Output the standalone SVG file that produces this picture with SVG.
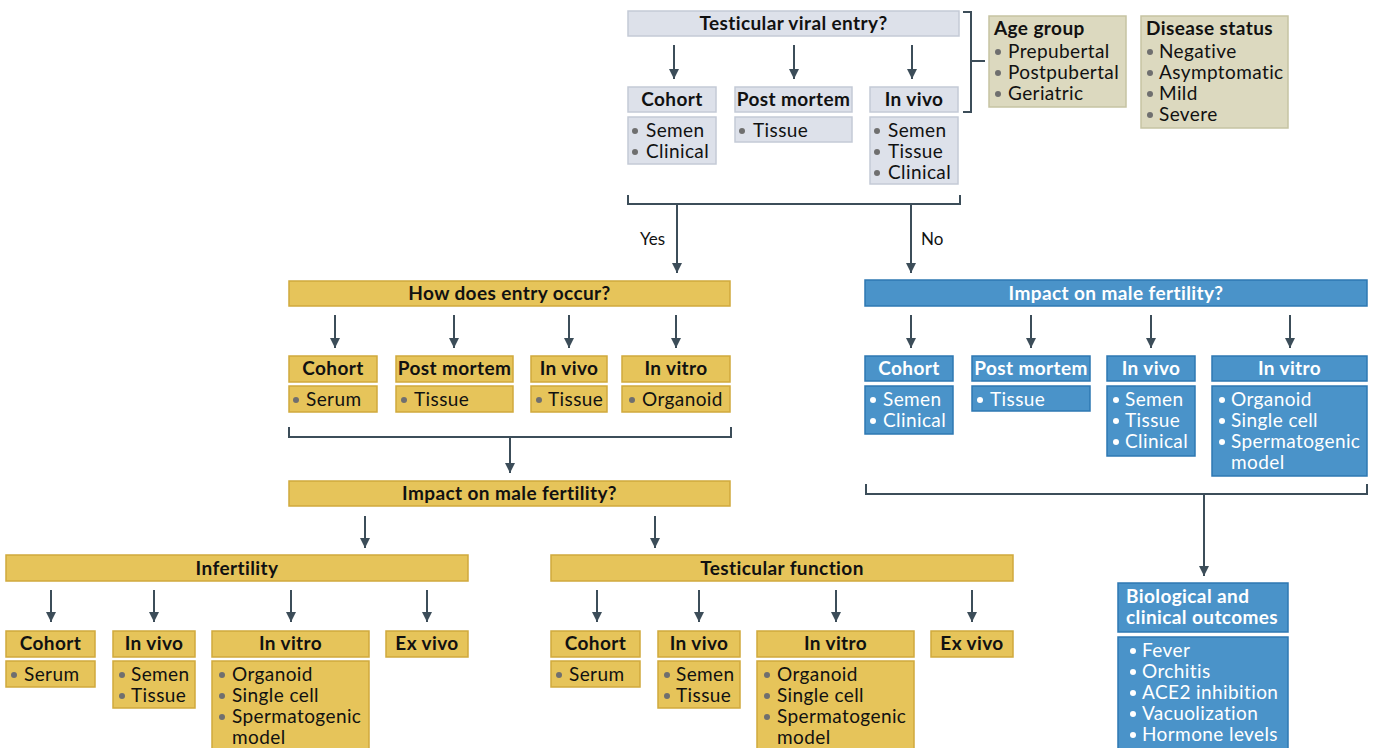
<svg xmlns="http://www.w3.org/2000/svg" width="1381" height="748" viewBox="0 0 1381 748">
<defs>
<marker id="ah" viewBox="0 0 10 10" refX="10" refY="5" markerWidth="10" markerHeight="10" markerUnits="userSpaceOnUse" orient="auto">
<path d="M0,0 L10,5 L0,10 Z" fill="#3c4d59"/>
</marker>
<style>
text{font-family:Lato,"Open Sans","Liberation Sans",sans-serif;font-size:19px;letter-spacing:0.4px}
.g{fill:#dde1ea;stroke:#c4cad6;stroke-width:1.5}
.b{fill:#dcd9bf;stroke:#c6c3a3;stroke-width:1.5}
.y{fill:#e6c45a;stroke:#d0a93c;stroke-width:1.5}
.u{fill:#4a93c9;stroke:#2e78b2;stroke-width:1.5}
.h{font-weight:bold;text-anchor:middle;fill:#111}
.hw{font-weight:bold;text-anchor:middle;fill:#fff}
.t{fill:#111}
.tw{fill:#fff}
.d{fill:#6f6f6f}
.dw{fill:#fff}
.c{stroke:#3c4d59;stroke-width:2;fill:none}
.a{stroke:#3c4d59;stroke-width:2;fill:none;marker-end:url(#ah)}
.lbl{font-size:17px;letter-spacing:0;fill:#111}
</style>
</defs>

<g id="connectors">
<line class="a" x1="674" y1="45" x2="674" y2="79"/>
<line class="a" x1="794" y1="45" x2="794" y2="79"/>
<line class="a" x1="912" y1="45" x2="912" y2="79"/>
<path class="c" d="M963,12 H971 V112 H963 M971,61 H985"/>
<path class="c" d="M628,195 V204 H960 V195"/>
<line class="a" x1="677" y1="204" x2="677" y2="273"/>
<line class="a" x1="911" y1="204" x2="911" y2="273"/>
<line class="a" x1="335" y1="315" x2="335" y2="348"/>
<line class="a" x1="454" y1="315" x2="454" y2="348"/>
<line class="a" x1="569" y1="315" x2="569" y2="348"/>
<line class="a" x1="676" y1="315" x2="676" y2="348"/>
<path class="c" d="M289,427 V437 H731 V427"/>
<line class="a" x1="510" y1="437" x2="510" y2="473"/>
<line class="a" x1="365" y1="516" x2="365" y2="548"/>
<line class="a" x1="655" y1="516" x2="655" y2="548"/>
<line class="a" x1="51" y1="590" x2="51" y2="622"/>
<line class="a" x1="154" y1="590" x2="154" y2="622"/>
<line class="a" x1="291" y1="590" x2="291" y2="622"/>
<line class="a" x1="427" y1="590" x2="427" y2="622"/>
<line class="a" x1="597" y1="590" x2="597" y2="622"/>
<line class="a" x1="699" y1="590" x2="699" y2="622"/>
<line class="a" x1="836" y1="590" x2="836" y2="622"/>
<line class="a" x1="972" y1="590" x2="972" y2="622"/>
<line class="a" x1="911" y1="315" x2="911" y2="348"/>
<line class="a" x1="1031" y1="315" x2="1031" y2="348"/>
<line class="a" x1="1151" y1="315" x2="1151" y2="348"/>
<line class="a" x1="1290" y1="315" x2="1290" y2="348"/>
<path class="c" d="M866,484 V494 H1367 V484"/>
<line class="a" x1="1204" y1="494" x2="1204" y2="576"/>
<text class="lbl" x="640" y="245">Yes</text>
<text class="lbl" x="921" y="245">No</text>
</g>

<g id="n-entry">
<rect class="g" x="628" y="11" width="331" height="25"/>
<text class="h" x="793.5" y="30">Testicular viral entry?</text>
</g>
<g id="n-top-cohort">
<rect class="g" x="628" y="87" width="88" height="25"/>
<text class="h" x="672" y="106">Cohort</text>
<rect class="g" x="628" y="117" width="88" height="47"/>
<circle class="d" cx="635" cy="131" r="3"/><text class="t" x="646" y="137">Semen</text>
<circle class="d" cx="635" cy="152" r="3"/><text class="t" x="646" y="158">Clinical</text>
</g>
<g id="n-top-postmortem">
<rect class="g" x="735" y="87" width="117" height="25"/>
<text class="h" x="793.5" y="106">Post mortem</text>
<rect class="g" x="735" y="117" width="117" height="25"/>
<circle class="d" cx="742" cy="131" r="3"/><text class="t" x="753" y="137">Tissue</text>
</g>
<g id="n-top-invivo">
<rect class="g" x="870" y="87" width="88" height="25"/>
<text class="h" x="914" y="106">In vivo</text>
<rect class="g" x="870" y="117" width="88" height="67"/>
<circle class="d" cx="877" cy="131" r="3"/><text class="t" x="888" y="137">Semen</text>
<circle class="d" cx="877" cy="152" r="3"/><text class="t" x="888" y="158">Tissue</text>
<circle class="d" cx="877" cy="173" r="3"/><text class="t" x="888" y="179">Clinical</text>
</g>
<g id="n-age">
<rect class="b" x="989" y="16" width="137" height="91"/>
<text class="t" x="994" y="35" style="font-weight:bold">Age group</text>
<circle class="d" cx="998" cy="52" r="3"/><text class="t" x="1008" y="58">Prepubertal</text>
<circle class="d" cx="998" cy="73" r="3"/><text class="t" x="1008" y="79">Postpubertal</text>
<circle class="d" cx="998" cy="94" r="3"/><text class="t" x="1008" y="100">Geriatric</text>
</g>
<g id="n-disease">
<rect class="b" x="1141" y="16" width="147" height="112"/>
<text class="t" x="1146" y="35" style="font-weight:bold">Disease status</text>
<circle class="d" cx="1150" cy="52" r="3"/><text class="t" x="1159" y="58">Negative</text>
<circle class="d" cx="1150" cy="73" r="3"/><text class="t" x="1159" y="79">Asymptomatic</text>
<circle class="d" cx="1150" cy="94" r="3"/><text class="t" x="1159" y="100">Mild</text>
<circle class="d" cx="1150" cy="115" r="3"/><text class="t" x="1159" y="121">Severe</text>
</g>

<g id="n-how">
<rect class="y" x="289" y="281" width="441" height="25"/>
<text class="h" x="509.5" y="300">How does entry occur?</text>
</g>
<g id="n-how-cohort">
<rect class="y" x="289" y="356" width="88" height="26"/>
<text class="h" x="333" y="375">Cohort</text>
<rect class="y" x="289" y="386" width="88" height="26"/>
<circle class="d" cx="296" cy="400" r="3"/><text class="t" x="306" y="406">Serum</text>
</g>
<g id="n-how-postmortem">
<rect class="y" x="396" y="356" width="117" height="26"/>
<text class="h" x="454.5" y="375">Post mortem</text>
<rect class="y" x="396" y="386" width="117" height="26"/>
<circle class="d" cx="404" cy="400" r="3"/><text class="t" x="414" y="406">Tissue</text>
</g>
<g id="n-how-invivo">
<rect class="y" x="531" y="356" width="76" height="26"/>
<text class="h" x="569" y="375">In vivo</text>
<rect class="y" x="531" y="386" width="76" height="26"/>
<circle class="d" cx="539" cy="400" r="3"/><text class="t" x="548" y="406">Tissue</text>
</g>
<g id="n-how-invitro">
<rect class="y" x="622" y="356" width="108" height="26"/>
<text class="h" x="676" y="375">In vitro</text>
<rect class="y" x="622" y="386" width="108" height="26"/>
<circle class="d" cx="632" cy="400" r="3"/><text class="t" x="642" y="406">Organoid</text>
</g>
<g id="n-impact-y">
<rect class="y" x="289" y="481" width="441" height="25"/>
<text class="h" x="509.5" y="500">Impact on male fertility?</text>
</g>

<g id="n-infertility">
<rect class="y" x="6" y="555" width="462" height="26"/>
<text class="h" x="237" y="575">Infertility</text>
</g>
<g id="n-inf-cohort">
<rect class="y" x="6" y="631" width="89" height="26"/>
<text class="h" x="50.5" y="650">Cohort</text>
<rect class="y" x="6" y="661" width="89" height="26"/>
<circle class="d" cx="14" cy="675" r="3"/><text class="t" x="24" y="681">Serum</text>
</g>
<g id="n-inf-invivo">
<rect class="y" x="113" y="631" width="82" height="26"/>
<text class="h" x="154" y="650">In vivo</text>
<rect class="y" x="113" y="661" width="82" height="47"/>
<circle class="d" cx="122" cy="675" r="3"/><text class="t" x="131" y="681">Semen</text>
<circle class="d" cx="122" cy="696" r="3"/><text class="t" x="131" y="702">Tissue</text>
</g>
<g id="n-inf-invitro">
<rect class="y" x="212" y="631" width="157" height="26"/>
<text class="h" x="290.5" y="650">In vitro</text>
<rect class="y" x="212" y="661" width="157" height="92"/>
<circle class="d" cx="222" cy="675" r="3"/><text class="t" x="232" y="681">Organoid</text>
<circle class="d" cx="222" cy="696" r="3"/><text class="t" x="232" y="702">Single cell</text>
<circle class="d" cx="222" cy="717" r="3"/><text class="t" x="232" y="723">Spermatogenic</text>
<text class="t" x="232" y="744">model</text>
</g>
<g id="n-inf-exvivo">
<rect class="y" x="386" y="631" width="82" height="26"/>
<text class="h" x="427" y="650">Ex vivo</text>
</g>

<g id="n-function">
<rect class="y" x="551" y="555" width="462" height="26"/>
<text class="h" x="782" y="575">Testicular function</text>
</g>
<g id="n-fn-cohort">
<rect class="y" x="551" y="631" width="89" height="26"/>
<text class="h" x="595.5" y="650">Cohort</text>
<rect class="y" x="551" y="661" width="89" height="26"/>
<circle class="d" cx="559" cy="675" r="3"/><text class="t" x="569" y="681">Serum</text>
</g>
<g id="n-fn-invivo">
<rect class="y" x="658" y="631" width="82" height="26"/>
<text class="h" x="699" y="650">In vivo</text>
<rect class="y" x="658" y="661" width="82" height="47"/>
<circle class="d" cx="667" cy="675" r="3"/><text class="t" x="676" y="681">Semen</text>
<circle class="d" cx="667" cy="696" r="3"/><text class="t" x="676" y="702">Tissue</text>
</g>
<g id="n-fn-invitro">
<rect class="y" x="757" y="631" width="157" height="26"/>
<text class="h" x="835.5" y="650">In vitro</text>
<rect class="y" x="757" y="661" width="157" height="92"/>
<circle class="d" cx="767" cy="675" r="3"/><text class="t" x="777" y="681">Organoid</text>
<circle class="d" cx="767" cy="696" r="3"/><text class="t" x="777" y="702">Single cell</text>
<circle class="d" cx="767" cy="717" r="3"/><text class="t" x="777" y="723">Spermatogenic</text>
<text class="t" x="777" y="744">model</text>
</g>
<g id="n-fn-exvivo">
<rect class="y" x="931" y="631" width="82" height="26"/>
<text class="h" x="972" y="650">Ex vivo</text>
</g>

<g id="n-impact-b">
<rect class="u" x="865" y="280" width="502" height="26"/>
<text class="hw" x="1116" y="300">Impact on male fertility?</text>
</g>
<g id="n-b-cohort">
<rect class="u" x="865" y="356" width="88" height="25"/>
<text class="hw" x="909" y="375">Cohort</text>
<rect class="u" x="865" y="386" width="88" height="48"/>
<circle class="dw" cx="873" cy="400" r="3"/><text class="tw" x="883" y="406">Semen</text>
<circle class="dw" cx="873" cy="421" r="3"/><text class="tw" x="883" y="427">Clinical</text>
</g>
<g id="n-b-postmortem">
<rect class="u" x="972" y="356" width="118" height="25"/>
<text class="hw" x="1031" y="375">Post mortem</text>
<rect class="u" x="972" y="386" width="118" height="25"/>
<circle class="dw" cx="980" cy="400" r="3"/><text class="tw" x="990" y="406">Tissue</text>
</g>
<g id="n-b-invivo">
<rect class="u" x="1107" y="356" width="88" height="25"/>
<text class="hw" x="1151" y="375">In vivo</text>
<rect class="u" x="1107" y="386" width="88" height="70"/>
<circle class="dw" cx="1116" cy="400" r="3"/><text class="tw" x="1125" y="406">Semen</text>
<circle class="dw" cx="1116" cy="421" r="3"/><text class="tw" x="1125" y="427">Tissue</text>
<circle class="dw" cx="1116" cy="442" r="3"/><text class="tw" x="1125" y="448">Clinical</text>
</g>
<g id="n-b-invitro">
<rect class="u" x="1212" y="356" width="155" height="25"/>
<text class="hw" x="1289.5" y="375">In vitro</text>
<rect class="u" x="1212" y="386" width="155" height="90"/>
<circle class="dw" cx="1222" cy="400" r="3"/><text class="tw" x="1231" y="406">Organoid</text>
<circle class="dw" cx="1222" cy="421" r="3"/><text class="tw" x="1231" y="427">Single cell</text>
<circle class="dw" cx="1222" cy="442" r="3"/><text class="tw" x="1231" y="448">Spermatogenic</text>
<text class="tw" x="1231" y="469">model</text>
</g>
<g id="n-outcomes">
<rect class="u" x="1118" y="583" width="170" height="49"/>
<text class="tw" x="1126" y="603" style="font-weight:bold">Biological and</text>
<text class="tw" x="1126" y="624" style="font-weight:bold">clinical outcomes</text>
<rect class="u" x="1118" y="637" width="170" height="116"/>
<circle class="dw" cx="1133" cy="651" r="3"/><text class="tw" x="1142" y="657">Fever</text>
<circle class="dw" cx="1133" cy="672" r="3"/><text class="tw" x="1142" y="678">Orchitis</text>
<circle class="dw" cx="1133" cy="693" r="3"/><text class="tw" x="1142" y="699">ACE2 inhibition</text>
<circle class="dw" cx="1133" cy="714" r="3"/><text class="tw" x="1142" y="720">Vacuolization</text>
<circle class="dw" cx="1133" cy="735" r="3"/><text class="tw" x="1142" y="741">Hormone levels</text>
</g>
</svg>
